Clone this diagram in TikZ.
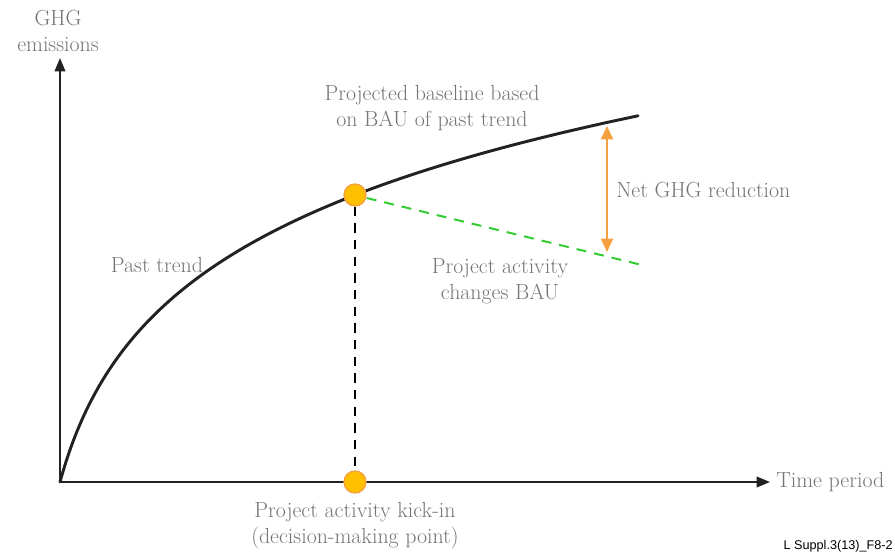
\documentclass[tikz,border=0pt]{standalone}
\usepackage{fontspec}
\newfontfamily\labelsans{Liberation Sans}
\usetikzlibrary{arrows.meta}
\definecolor{txtgray}{HTML}{747474}
\definecolor{dotfill}{HTML}{FFC000}
\definecolor{dotedge}{HTML}{F5A040}
\definecolor{greenline}{HTML}{33CC33}
\definecolor{orangearr}{HTML}{F7A040}
\definecolor{axiscol}{HTML}{222222}
\begin{document}
\begin{tikzpicture}[x=0.75pt,y=-0.75pt,
  lbl/.style={text=txtgray,font=\rmfamily\fontsize{16.4}{19.5}\selectfont,align=center,inner sep=0pt},
  axisline/.style={draw=axiscol,line width=1.3pt,-{Triangle[length=10pt,width=8pt]}},
  dot/.style={circle,fill=dotfill,draw=dotedge,line width=1pt,minimum size=16.5pt,inner sep=0pt}]
\useasboundingbox (0,0) rectangle (895,557);
\coordinate (O) at (60,482);
\coordinate (ytip) at (60,58);
\coordinate (xtip) at (770,482);
\draw[axisline] (O) -- (ytip);
\draw[axisline] (O) -- (xtip);
% curve
\draw[axiscol,line width=2.2pt,line cap=round] plot[domain=0:578,samples=150,smooth] ({60+\x},{482-127.9*ln(1+\x/35)});
\coordinate (greenend) at (642,265);
\node[dot] (top) at (355,195) {};
\node[dot] (bot) at (355,482) {};
\draw[black,line width=1.7pt,dash pattern=on 7pt off 5.5pt] (top.south) -- (bot.north);
\draw[greenline,line width=1.5pt,dash pattern=on 7.5pt off 6pt] (top.east) ++(0,3) -- (greenend);
\coordinate (arrtop) at (607,126);
\coordinate (arrbot) at (607,252);
\draw[orangearr,line width=1.4pt,{Triangle[length=10pt,width=9pt]}-{Triangle[length=10pt,width=9pt]}] (arrtop) -- (arrbot);
% labels
\node[lbl] (ylab) at (58,31) {GHG\\emissions};
\node[lbl] (past) at (157,265) {Past trend};
\node[lbl] (proj) at (432,108) {Projected baseline based\\on BAU of past trend};
\node[lbl,anchor=west] (net) at (616,190) {Net GHG reduction};
\node[lbl] (pact) at (500,281) {Project activity\\changes BAU};
\node[lbl,anchor=west] (xlab) at (776,482) {Time period};
\node[lbl] (kick) at (355,526) {Project activity kick-in\\(decision-making point)};
\node[anchor=east,inner sep=0pt,font=\labelsans\fontsize{9.5}{11}\selectfont] (code) at (893,546) {L Suppl.3(13)\_F8-2};
\end{tikzpicture}
\end{document}
